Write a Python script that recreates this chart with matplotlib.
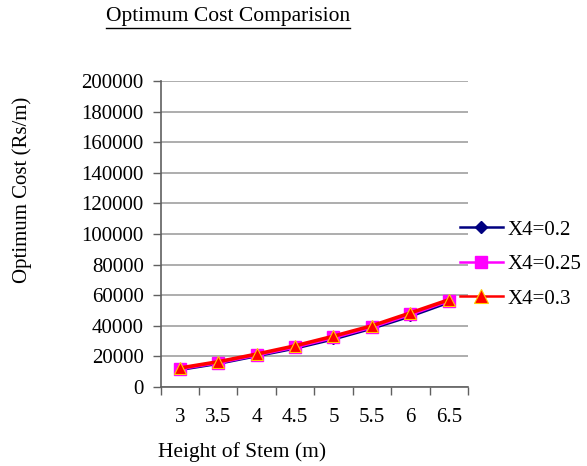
import matplotlib
matplotlib.use("Agg")
import matplotlib.pyplot as plt
from matplotlib.lines import Line2D

plt.rcParams['font.family'] = ['Liberation Serif', 'DejaVu Serif']

# Stem heights (m) and optimum cost (Rs/m) for each X4 value
heights = ["3", "3.5", "4", "4.5", "5", "5.5", "6", "6.5"]
cost_x4_02 = [11500, 15500, 20500, 25500, 31500, 38500, 46500, 55500]
cost_x4_025 = [12000, 16000, 21000, 26200, 32400, 39300, 47500, 56500]
cost_x4_03 = [12400, 16500, 21500, 26900, 33200, 40000, 48400, 57000]
series_names = ["X4=0.2", "X4=0.25", "X4=0.3"]

W, H = 587, 466
fig = plt.figure(figsize=(W / 100, H / 100), dpi=100)
ax = fig.add_axes([160.5 / W, 1 - 387 / H, (468 - 160.5) / W, (387 - 81) / H])

x = list(range(len(heights)))
ax.plot(x, cost_x4_02, color="#000080", lw=2.6, marker="D", ms=5,
        mfc="#000080", mec="#000080", label=series_names[0], zorder=3)
ax.plot(x, cost_x4_025, color="#FF00FF", lw=2.6, marker="s", ms=8,
        mfc="#FF00FF", mec="#FF00FF", label=series_names[1], zorder=4)
ax.plot(x, cost_x4_03, color="#FF0000", lw=2.6, marker="^", ms=9,
        mfc="#FF0000", mec="#FFCC00", mew=0.8, label=series_names[2], zorder=5)

ax.set_xlim(-0.5, len(heights) - 0.5)
ax.set_ylim(0, 200000)
ax.set_yticks(range(0, 200001, 20000))
ax.yaxis.grid(True, color="#A0A0A0", lw=1.2)
ax.set_axisbelow(True)

# category boundaries carry the tick marks, centres carry the labels
ax.set_xticks([i - 0.5 for i in range(len(heights) + 1)])
ax.set_xticklabels([])
ax.set_xticks(x, minor=True)
ax.set_xticklabels(heights, minor=True)
ax.tick_params(axis="x", which="major", length=6, width=1, color="#606060", direction="out")
ax.tick_params(axis="x", which="minor", length=0, pad=15, labelsize=15)
ax.tick_params(axis="y", length=6, width=1, color="#606060", pad=6, labelsize=15)

for side in ("top", "right"):
    ax.spines[side].set_visible(False)
for side in ("left", "bottom"):
    ax.spines[side].set_color("#606060")
    ax.spines[side].set_linewidth(1.2)

legend_handles = [
    Line2D([], [], color="#000080", lw=1.8, marker="D", ms=6, mfc="#000080"),
    Line2D([], [], color="#FF00FF", lw=1.8, marker="s", ms=9, mfc="#FF00FF"),
    Line2D([], [], color="#FF0000", lw=1.8, marker="^", ms=10, mfc="#FF0000",
           mec="#FFCC00", mew=0.8),
]
fig.legend(legend_handles, series_names, loc="upper left",
           bbox_to_anchor=(460 / W, 1 - 220 / H), frameon=False, fontsize=15,
           handlelength=2.05, handletextpad=0.25, labelspacing=0.72, borderaxespad=0,
           borderpad=0)

title = fig.text(228 / W, 1 - 17 / H, "Optimum Cost Comparision", fontsize=15.5,
                 ha="center", va="center")
fig.canvas.draw()
bb = title.get_window_extent()
fig.add_artist(Line2D([bb.x0 / W, bb.x1 / W], [(bb.y0 - 1) / H, (bb.y0 - 1) / H],
                      color="black", lw=1))

fig.text(22 / W, 1 - 190 / H, "Optimum Cost (Rs/m)", rotation=90, fontsize=15,
         ha="center", va="center")
fig.text(242 / W, 1 - 452 / H, "Height of Stem (m)", fontsize=15.5,
         ha="center", va="center")

fig.savefig("out.png", dpi=100)
